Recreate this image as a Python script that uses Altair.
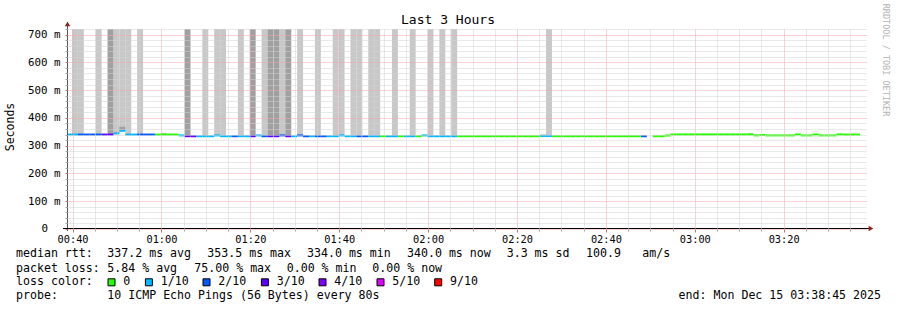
import altair as alt
import pandas as pd

# ---------------- data ----------------
START = "2025-12-15T00:38:45Z"
END = "2025-12-15T03:38:45Z"
FIRST_SLOT = "2025-12-15T00:38:32Z"   # start of slot -1 (partly before the window)
STEP_SECONDS = 80

# (first slot, last slot, lost pings of 10)  -- slot 97 has no data
LOSS_RUNS = [(-1, 0, 1), (1, 4, 2), (5, 6, 3), (7, 10, 1), (11, 13, 2), (14, 17, 0),
             (18, 18, 1), (19, 20, 3), (21, 26, 1), (27, 27, 2), (28, 29, 1), (30, 30, 3),
             (31, 31, 1), (32, 32, 2), (33, 34, 3), (35, 35, 2), (36, 36, 3), (37, 37, 1),
             (38, 39, 2), (40, 40, 1), (41, 42, 2), (43, 47, 1), (48, 49, 2), (50, 51, 1),
             (52, 52, 0), (53, 54, 1), (55, 55, 0), (56, 57, 1), (58, 58, 0), (59, 64, 1),
             (65, 78, 0), (79, 80, 1), (81, 95, 0), (96, 96, 2), (98, 132, 0)]

# (first slot, last slot, median rtt in ms)
MEDIAN_RUNS = [(-1, 6, 340.0), (7, 7, 344.0), (8, 8, 353.5), (9, 17, 340.0), (18, 18, 337.0),
               (19, 23, 334.0), (24, 24, 337.0), (25, 30, 334.0), (31, 31, 337.0), (32, 34, 334.0),
               (35, 35, 337.0), (36, 37, 334.0), (38, 38, 337.0), (39, 44, 334.0), (45, 45, 337.0),
               (46, 58, 334.0), (59, 59, 337.0), (60, 78, 334.0), (79, 80, 335.0), (81, 96, 334.0),
               (98, 99, 334.0), (100, 100, 336.5), (101, 114, 340.5), (115, 115, 337.0),
               (116, 116, 338.5), (117, 121, 337.0), (122, 122, 340.5), (123, 124, 337.0),
               (125, 125, 340.5), (126, 128, 337.0), (129, 129, 340.5), (130, 132, 340.0)]

# smoke reaching the top of the graph
TALL_LIGHT = [0, 1, 4, 7, 8, 9, 11, 22, 24, 25, 28, 32, 35, 38, 41, 44, 45, 47, 48,
              50, 51, 54, 57, 60, 62, 64, 80]
TALL_DARK = [6, 19, 30, 33, 34, 36]
SMOKE_TOP = 720.0
# short smoke just above the median: (slot, shade, top ms)
SHORT_SMOKE = [(7, "dark", 348.0), (8, "dark", 368.0), (15, "light", 346.0),
               (79, "light", 341.0), (114, "light", 345.0)]

LOSS_LEGEND = ["0", "1/10", "2/10", "3/10", "4/10", "5/10", "9/10"]
LOSS_COLORS = ["#26ff00", "#00b8ff", "#0059ff", "#5e00ff", "#7e00ff", "#dd00ff", "#ff0000"]
LOSS_COLOR_OF = {0: "#26ff00", 1: "#00b8ff", 2: "#0059ff", 3: "#5e00ff",
                 4: "#7e00ff", 5: "#dd00ff", 9: "#ff0000"}
SHADES = {"light": "#c8c8c8", "dark": "#a0a0a0"}

TITLE = "Last 3 Hours"
Y_TITLE = "Seconds"
Y_ZERO_LABEL = "0"
WATERMARK = "RRDTOOL / TOBI OETIKER"
RTT_LABEL = "median rtt:"
RTT_STATS = ["337.2 ms avg", "353.5 ms max", "334.0 ms min", "340.0 ms now", "3.3 ms sd",
             "100.9", "am/s"]
LOSS_LABEL = "packet loss:"
LOSS_STATS = ["5.84 % avg", "75.00 % max", "0.00 % min", "0.00 % now"]
COLOR_LABEL = "loss color:"
PROBE_LABEL = "probe:"
PROBE_TEXT = "10 ICMP Echo Pings (56 Bytes) every 80s"
END_TEXT = "end: Mon Dec 15 03:38:45 2025"

X_MAJOR = [(0, 40), (1, 0), (1, 20), (1, 40), (2, 0), (2, 20), (2, 40), (3, 0), (3, 20)]
X_MINOR = [(0, 45), (0, 50), (0, 55), (1, 5), (1, 10), (1, 15), (1, 25), (1, 30), (1, 35),
           (1, 45), (1, 50), (1, 55), (2, 5), (2, 10), (2, 15), (2, 25), (2, 30), (2, 35),
           (2, 45), (2, 50), (2, 55), (3, 5), (3, 10), (3, 15), (3, 25), (3, 30), (3, 35)]
Y_MAJOR = [0, 100, 200, 300, 400, 500, 600, 700]
Y_MINOR = [20, 40, 60, 80, 120, 140, 160, 180, 220, 240, 260, 280, 320, 340, 360, 380,
           420, 440, 460, 480, 520, 540, 560, 580, 620, 640, 660, 680, 720]

# ---------------- build tables ----------------
first = pd.Timestamp(FIRST_SLOT)


def slot_time(k):
    return (first + pd.Timedelta(seconds=STEP_SECONDS * (k + 1))).strftime("%Y-%m-%dT%H:%M:%SZ")


median = {}
for a, b, v in MEDIAN_RUNS:
    for k in range(a, b + 1):
        median[k] = v
loss = {}
for a, b, v in LOSS_RUNS:
    for k in range(a, b + 1):
        loss[k] = v

med_rows = [{"t0": slot_time(k), "t1": slot_time(k + 1), "med": median[k],
             "col": LOSS_COLOR_OF[loss[k]]} for k in sorted(median)]
med_df = pd.DataFrame(med_rows)

smoke_rows = []
for k in TALL_LIGHT:
    smoke_rows.append({"t0": slot_time(k), "t1": slot_time(k + 1), "lo": median[k],
                       "hi": SMOKE_TOP, "col": SHADES["light"]})
for k in TALL_DARK:
    smoke_rows.append({"t0": slot_time(k), "t1": slot_time(k + 1), "lo": median[k],
                       "hi": SMOKE_TOP, "col": SHADES["dark"]})
for k, shade, top in SHORT_SMOKE:
    smoke_rows.append({"t0": slot_time(k), "t1": slot_time(k + 1), "lo": median[k],
                       "hi": top, "col": SHADES[shade]})
smoke_df = pd.DataFrame(smoke_rows)


def dt(h, m, s=0):
    return alt.DateTime(year=2025, month=12, date=15, hours=h, minutes=m, seconds=s, utc=True)


MONO = "DejaVu Sans Mono"
x_scale = alt.Scale(type="utc", domain=[dt(0, 38, 45), dt(3, 38, 45)])
y_scale = alt.Scale(domain=[0, 720], nice=False, zero=True)

MINOR_GRID = "#d2d2d2"
MAJOR_GRID = "#f4a8a8"

smoke = alt.Chart(smoke_df).mark_rect(clip=True).encode(
    x=alt.X("t0:T", scale=x_scale,
            axis=alt.Axis(orient="bottom", values=[dt(h, m) for h, m in X_MINOR], labels=False,
                          domain=False, tickSize=2, tickColor="#a0a0a0", grid=True,
                          gridColor=MINOR_GRID, gridDash=[1, 1], zindex=1, title=None)),
    x2="t1:T",
    y=alt.Y("lo:Q", scale=y_scale,
            axis=alt.Axis(orient="left", values=Y_MINOR, labels=False, domain=False,
                          tickSize=2, tickColor="#a0a0a0", grid=True, gridColor=MINOR_GRID,
                          gridDash=[1, 1], zindex=1, title=None)),
    y2="hi:Q",
    color=alt.Color("col:N", scale=None),
)

medians = alt.Chart(med_df).mark_rule(clip=True, strokeWidth=2, strokeCap="butt").encode(
    x=alt.X("t0:T", scale=x_scale,
            axis=alt.Axis(orient="bottom", values=[dt(h, m) for h, m in X_MAJOR],
                          labelExpr="utcFormat(datum.value, '%H:%M')", labelFont=MONO,
                          labelFontSize=10.3, labelColor="#000000", labelPadding=2,
                          domain=False, tickSize=3, tickColor="#c07070", grid=True,
                          gridColor=MAJOR_GRID, gridDash=[1, 1], zindex=1, title=None,
                          labelFlush=False, labelOverlap=False)),
    x2="t1:T",
    y=alt.Y("med:Q", scale=y_scale,
            axis=alt.Axis(orient="left", values=Y_MAJOR,
                          labelExpr="datum.value == 0 ? '' : datum.value + ' m'",
                          labelFont=MONO, labelFontSize=10.8, labelColor="#000000",
                          labelPadding=5, domain=False, tickSize=2, tickColor="#c07070",
                          grid=True, gridColor=MAJOR_GRID, gridDash=[1, 1], zindex=1,
                          title=None, labelFlush=False, labelOverlap=False)),
    color=alt.Color("col:N", scale=None),
)

dummy = pd.DataFrame({"d": [0]})


def label(txt, x, y, size=11.6, align="left", angle=0, color="#000000"):
    return alt.Chart(dummy).mark_text(
        text=txt, align=align, baseline="middle", font=MONO, fontSize=size,
        angle=angle, color=color,
    ).encode(x=alt.value(x), y=alt.value(y))


layers = [smoke, medians]

# axis lines with arrows
layers.append(alt.Chart(dummy).mark_rule(color="#555555", strokeWidth=1).encode(
    x=alt.value(0.5), y=alt.value(-7), y2=alt.value(202)))
layers.append(alt.Chart(dummy).mark_rule(color="#000000", strokeWidth=1).encode(
    x=alt.value(-4), x2=alt.value(802), y=alt.value(199.5)))
layers.append(alt.Chart(dummy).mark_point(shape="triangle-up", filled=True, size=30,
                                          color="#8b2020", opacity=1).encode(
    x=alt.value(0.5), y=alt.value(-5)))
layers.append(alt.Chart(dummy).mark_point(shape="triangle-right", filled=True, size=30,
                                          color="#8b2020", opacity=1).encode(
    x=alt.value(804), y=alt.value(199.5)))

# zero label of the value axis (rrdtool sets it in the digit column)
layers.append(label(Y_ZERO_LABEL, -19, 199.5, size=10.8, align="right"))

# titles
layers.append(label(TITLE, 381, -9.5, size=13, align="center"))
layers.append(label(Y_TITLE, -56, 98, size=11.5, align="center", angle=270))
layers.append(label(WATERMARK, 819, 31, size=8.5, align="center", angle=90, color="#b4b4b4"))

# legend block (x positions measured in the picture, relative to the plot's left edge)
L1, L2, L3, L4 = 225, 239.5, 253.3, 267.3
layers.append(label(RTT_LABEL, -51, L1))
for txt, x in zip(RTT_STATS, [40.3, 140.3, 240, 340, 439.7, 519, 575.3]):
    layers.append(label(txt, x, L1))
layers.append(label(LOSS_LABEL, -51, L2))
for txt, x in zip(LOSS_STATS, [40.3, 127.3, 219.7, 305.3]):
    layers.append(label(txt, x, L2))
layers.append(label(COLOR_LABEL, -51, L3))
for txt, c, x in zip(LOSS_LEGEND, LOSS_COLORS, [56.3, 93.7, 151.3, 209.7, 267.3, 325.3, 383]):
    layers.append(alt.Chart(dummy).mark_square(size=49, fill=c, stroke="#000000",
                                               strokeWidth=1, opacity=1).encode(
        x=alt.value(x - 11.8), y=alt.value(L3)))
    layers.append(label(txt, x, L3))
layers.append(label(PROBE_LABEL, -51, L4))
layers.append(label(PROBE_TEXT, 40.3, L4))
layers.append(label(END_TEXT, 814, L4, align="right"))

chart = alt.layer(*layers).resolve_axis(x="independent", y="independent").properties(
    width=800, height=200,
    autosize=alt.AutoSizeParams(type="none"),
    padding={"left": 67, "top": 29, "right": 30, "bottom": 81},
    background="white",
).configure_view(stroke=None)

chart.save("out.html", embed_options={"renderer": "svg", "actions": False})
